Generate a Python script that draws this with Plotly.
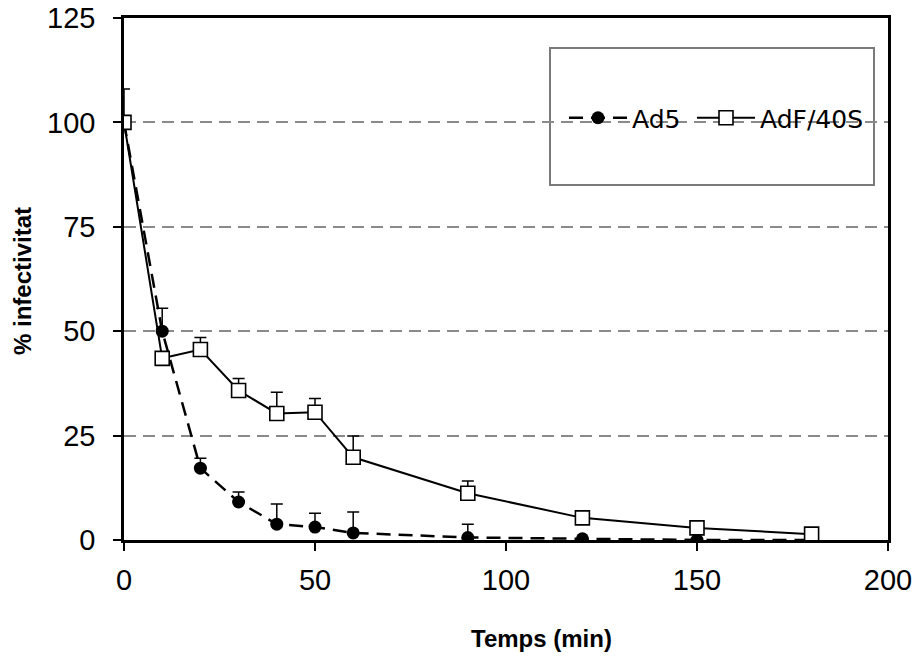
import plotly.graph_objects as go

# Time points (min)
temps = [0, 10, 20, 30, 40, 50, 60, 90, 120, 150, 180]

# Ad5: % infectivity and upper error
ad5 = [100, 50, 17.2, 9.1, 3.8, 3.1, 1.7, 0.6, 0.3, 0, 0]
ad5_err = [8, 5.5, 2.4, 2.4, 4.8, 3.3, 5.0, 3.2, 0, 0, 0]

# AdF/40S: % infectivity and upper error
adf = [100, 43.5, 45.6, 35.8, 30.3, 30.6, 19.8, 11.2, 5.3, 2.9, 1.4]
adf_err = [0, 0, 2.9, 2.9, 5.1, 3.3, 5.1, 2.9, 0, 0, 0]

x_ticks = [0, 50, 100, 150, 200]
y_ticks = [0, 25, 50, 75, 100, 125]

fig = go.Figure()

fig.add_trace(go.Scatter(
    x=temps, y=ad5, name="Ad5", mode="lines+markers", legend="legend",
    line=dict(color="black", width=2.5, dash="14px,8px"),
    marker=dict(symbol="circle", size=13, color="black"),
    error_y=dict(type="data", array=ad5_err, symmetric=False,
                 arrayminus=[0] * len(ad5_err),
                 color="black", thickness=1.5, width=6),
))

fig.add_trace(go.Scatter(
    x=temps, y=adf, name="AdF/40S", mode="lines+markers", legend="legend2",
    line=dict(color="black", width=2),
    marker=dict(symbol="square", size=14, color="white",
                line=dict(color="black", width=1.6)),
    error_y=dict(type="data", array=adf_err, symmetric=False,
                 arrayminus=[0] * len(adf_err),
                 color="black", thickness=1.5, width=6),
))

axis_font = dict(family="Liberation Sans, Arial", size=29, color="black")

fig.update_xaxes(
    range=[0, 200], tickvals=x_ticks, showgrid=False, zeroline=False,
    showline=True, linecolor="black", linewidth=2.5, mirror=True,
    ticks="outside", ticklen=8, tickwidth=1.5, tickcolor="black",
    tickfont=axis_font, automargin=False, ticklabelstandoff=4,
)
fig.update_yaxes(
    range=[0, 125], tickvals=y_ticks, zeroline=False,
    showgrid=True, gridcolor="#8a8a8a", gridwidth=2, griddash="12px,7px",
    showline=True, linecolor="black", linewidth=2.5, mirror=True,
    ticks="outside", ticklen=8, tickwidth=1.5, tickcolor="black",
    tickfont=axis_font, ticklabelstandoff=12, automargin=False,
)

title_font = dict(family="Liberation Sans, Arial", size=24, color="black")
legend_style = dict(
    orientation="h", xanchor="left", yanchor="middle",
    y=(540 - 118) / 522,
    bgcolor="rgba(0,0,0,0)", borderwidth=0,
    font=dict(family="DejaVu Sans", size=25, color="black"),
    itemwidth=58,
)

fig.update_layout(
    width=917, height=659,
    margin=dict(l=124, r=29, t=18, b=119),
    paper_bgcolor="white", plot_bgcolor="white",
    showlegend=True,
    legend=dict(x=(564 - 124) / 764, **legend_style),
    legend2=dict(x=(692 - 124) / 764, **legend_style),
    shapes=[dict(
        type="rect", xref="paper", yref="paper",
        x0=(550 - 124) / 764, x1=(874 - 124) / 764,
        y0=(540 - 185) / 522, y1=(540 - 48) / 522,
        line=dict(color="#7a7a7a", width=2), fillcolor="white", layer="below",
    )],
    annotations=[
        dict(text="<b>Temps (min)</b>", xref="paper", yref="paper",
             x=(541 - 124) / 764, y=(540 - 638) / 522,
             xanchor="center", yanchor="middle", showarrow=False,
             font=title_font),
        dict(text="<b>% infectivitat</b>", xref="paper", yref="paper",
             x=(22 - 124) / 764, y=(540 - 281) / 522,
             xanchor="center", yanchor="middle", showarrow=False,
             textangle=-90, font=title_font),
    ],
)

fig.write_html("out.html")
